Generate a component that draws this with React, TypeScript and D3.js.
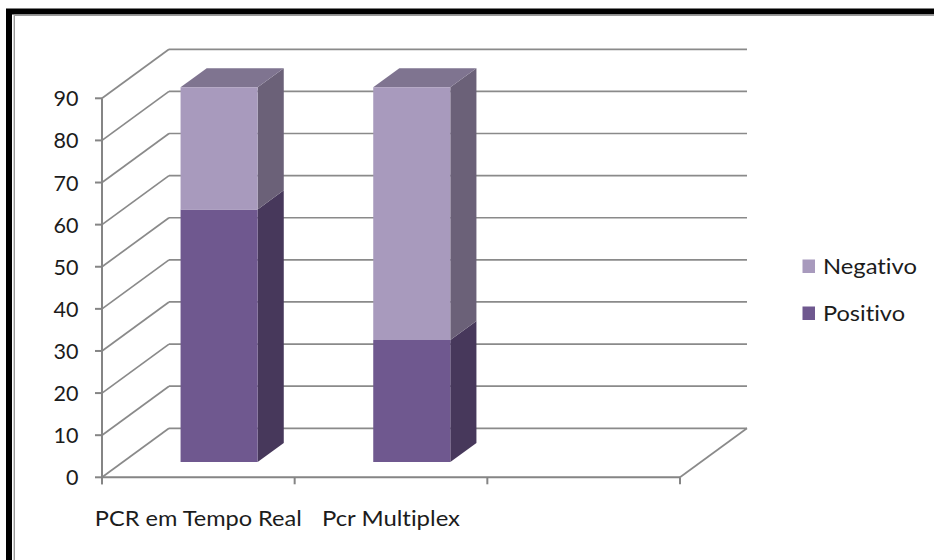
import React from "react";
import * as d3 from "d3";

// Chart data
const categories = ["PCR em Tempo Real", "Pcr Multiplex"];
const positivo = [60, 29];
const negativo = [29, 60];
const seriesNames = ["Negativo", "Positivo"];
const yTicks = [0, 10, 20, 30, 40, 50, 60, 70, 80, 90];

const W = 934;
const H = 560;

// Oblique projection: full floor depth shifts right/up by this amount
const DEPTH_DX = 67;
const DEPTH_DY = -49;
const BAR_Z0 = 0.31;
const BAR_Z1 = 0.7;

const colors = {
  Negativo: { front: "#a89abd", side: "#6b6178", top: "#7f7490" },
  Positivo: { front: "#6f588f", side: "#47385b", top: "#5a4875" },
};

const FONT = "Lato, 'Open Sans', 'Liberation Sans', sans-serif";
const textStyle = { fontVariantLigatures: "none" as const };

export default function App() {
  // three slots along the floor, the last one is left empty
  const slots = [...categories, "__empty"];
  const x = d3
    .scaleBand<string>()
    .domain(slots)
    .range([102, 680])
    .paddingInner(0.6)
    .paddingOuter(0.3);
  const y = d3.scaleLinear().domain([0, 90]).range([477.3, 98.3]);
  const step = x.step();
  const x0 = 102;
  const x1 = 680;

  const proj = (px: number, py: number, z: number): [number, number] => [
    px + DEPTH_DX * z,
    py + DEPTH_DY * z,
  ];
  const poly = (pts: [number, number][]) =>
    pts.map((p) => p.map((v) => v.toFixed(2)).join(",")).join(" ");

  const gridColor = "#8a8a8a";
  const axisColor = "#858585";
  const textColor = "#1c1c1c";

  // stacked segments
  const segments: {
    key: string;
    series: "Positivo" | "Negativo";
    cat: string;
    lo: number;
    hi: number;
    isTop: boolean;
  }[] = [];
  categories.forEach((c, i) => {
    segments.push({ key: c + "-p", series: "Positivo", cat: c, lo: 0, hi: positivo[i], isTop: false });
    segments.push({
      key: c + "-n",
      series: "Negativo",
      cat: c,
      lo: positivo[i],
      hi: positivo[i] + negativo[i],
      isTop: true,
    });
  });

  return (
    <svg
      width={W}
      height={H}
      style={{ position: "fixed", left: 0, top: 0, background: "#fff" }}
    >
      <rect x={0} y={0} width={W} height={H} fill="#fff" />

      {/* side wall and back wall gridlines */}
      {yTicks.map((t) => {
        const fy = y(t);
        const [bx, by] = proj(x0, fy, 1);
        const [ex] = proj(x1, fy, 1);
        return (
          <g key={"g" + t} fill="none" stroke={gridColor} strokeWidth={1.7}>
            <line x1={x0} y1={fy} x2={bx} y2={by} />
            <line x1={bx} y1={by} x2={ex} y2={by} />
          </g>
        );
      })}

      {/* floor right edge */}
      {(() => {
        const [bx, by] = proj(x1, y(0), 1);
        return (
          <line x1={x1} y1={y(0)} x2={bx} y2={by} stroke={gridColor} strokeWidth={1.7} />
        );
      })()}

      {/* bars */}
      {segments.map((s) => {
        const c = colors[s.series];
        const l = x(s.cat)!;
        const r = l + x.bandwidth();
        const yl = y(s.lo);
        const yh = y(s.hi);
        const fl = proj(l, yh, BAR_Z0);
        const fr = proj(r, yh, BAR_Z0);
        const flb = proj(l, yl, BAR_Z0);
        const frb = proj(r, yl, BAR_Z0);
        const br = proj(r, yh, BAR_Z1);
        const brb = proj(r, yl, BAR_Z1);
        const bl = proj(l, yh, BAR_Z1);
        return (
          <g key={s.key}>
            <polygon points={poly([fr, br, brb, frb])} fill={c.side} />
            {s.isTop && <polygon points={poly([fl, bl, br, fr])} fill={c.top} />}
            <polygon points={poly([fl, fr, frb, flb])} fill={c.front} />
          </g>
        );
      })}

      {/* value axis */}
      <line x1={x0} y1={y(90)} x2={x0} y2={y(0) + 7} stroke={axisColor} strokeWidth={2} />
      {yTicks.map((t) => (
        <g key={"t" + t}>
          <line x1={x0 - 7} y1={y(t)} x2={x0} y2={y(t)} stroke={axisColor} strokeWidth={2} />
          <text
            x={78.5}
            y={y(t) + 8}
            textAnchor="end"
            fontFamily={FONT}
            fontSize={21}
            fill={textColor}
            style={textStyle}
            textLength={String(t).length * 12.5}
            lengthAdjust="spacingAndGlyphs"
          >
            {t}
          </text>
        </g>
      ))}

      {/* category axis */}
      <line x1={x0} y1={y(0)} x2={x1} y2={y(0)} stroke={axisColor} strokeWidth={2} />
      {d3.range(slots.length + 1).map((i) => {
        const tx = x0 + i * step;
        return (
          <line key={"ct" + i} x1={tx} y1={y(0)} x2={tx} y2={y(0) + 7} stroke={axisColor} strokeWidth={2} />
        );
      })}
      {categories.map((c, i) => {
        const cx = x(c)! + x.bandwidth() / 2;
        const widths = [207, 138];
        return (
          <text
            key={"cl" + c}
            x={cx}
            y={525.5}
            textAnchor="middle"
            fontFamily={FONT}
            fontSize={21}
            fill={textColor}
            style={textStyle}
            textLength={widths[i]}
            lengthAdjust="spacingAndGlyphs"
          >
            {c}
          </text>
        );
      })}

      {/* legend */}
      {seriesNames.map((n, i) => {
        const ly = 259.5 + i * 47;
        const widths = [94, 82];
        return (
          <g key={"lg" + n}>
            <rect x={802.5} y={ly} width={12.5} height={13.5} fill={colors[n as "Negativo"].front} />
            <text
              x={823}
              y={ly + 14}
              fontFamily={FONT}
              fontSize={21}
              fill={textColor}
              style={textStyle}
              textLength={widths[i]}
              lengthAdjust="spacingAndGlyphs"
            >
              {n}
            </text>
          </g>
        );
      })}

      {/* chart frame */}
      <rect x={9} y={11.5} width={W + 20} height={H + 20} fill="none" stroke="#000" strokeWidth={6} />
      <line x1={14.3} y1={15.3} x2={W} y2={15.3} stroke="#9a9a9a" strokeWidth={1.4} />
      <line x1={14.3} y1={15.3} x2={14.3} y2={H} stroke="#9a9a9a" strokeWidth={1.4} />
    </svg>
  );
}
